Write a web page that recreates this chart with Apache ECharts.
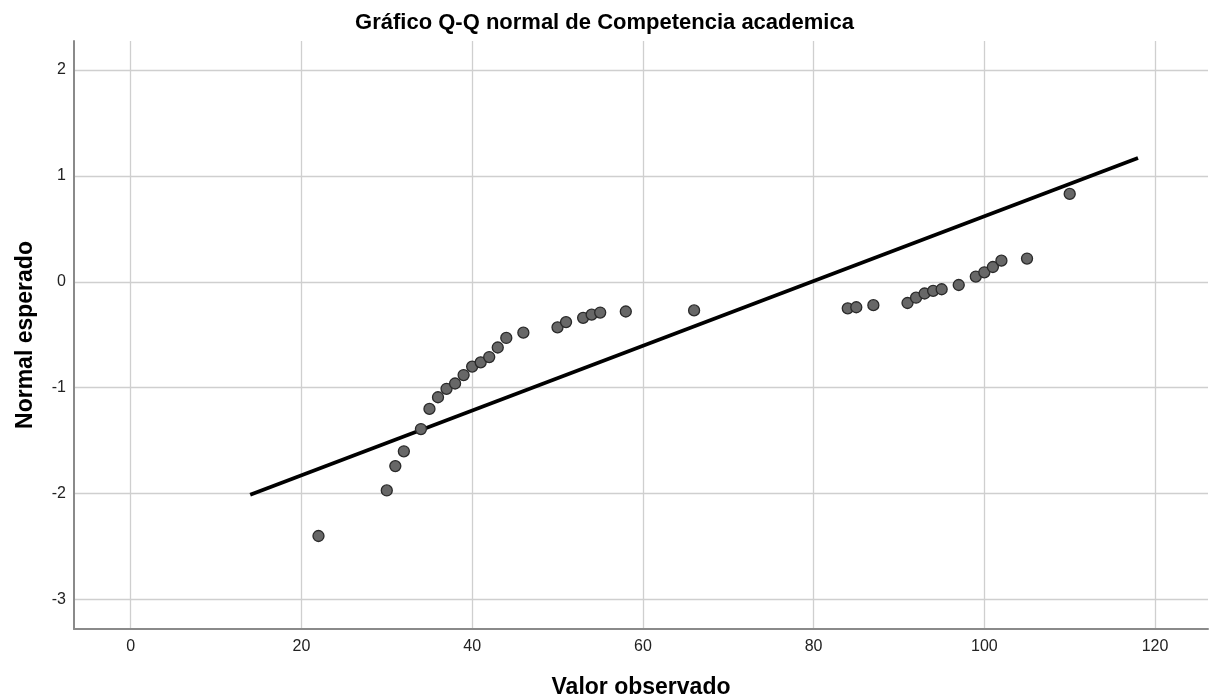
<!DOCTYPE html>
<html>
<head>
<meta charset="utf-8">
<script src="https://cdn.jsdelivr.net/npm/echarts@6/dist/echarts.min.js"></script>
<style>
html,body{margin:0;padding:0;background:#fff;}
#chart{width:1209px;height:700px;}
</style>
</head>
<body>
<div id="chart"></div>
<script>
// Observed values (x) and expected normal values (y)
var observed = [22, 30, 31, 32, 34, 35, 36, 37, 38, 39, 40, 41, 42, 43, 44, 46, 50, 51, 53, 54, 55, 58, 66,
                84, 85, 87, 91, 92, 93, 94, 95, 97, 99, 100, 101, 102, 105, 110];
var expected = [-2.40, -1.97, -1.74, -1.60, -1.39, -1.20, -1.09, -1.01, -0.96, -0.88, -0.80, -0.76, -0.71, -0.62, -0.53, -0.48, -0.43, -0.38, -0.34, -0.31, -0.29, -0.28, -0.27,
                -0.25, -0.24, -0.22, -0.20, -0.15, -0.11, -0.085, -0.07, -0.03, 0.05, 0.09, 0.14, 0.20, 0.22, 0.83];
// Reference line end points
var lineX = [14, 118];
var lineY = [-2.01, 1.17];
// Tick labels
var xTicks = [0, 20, 40, 60, 80, 100, 120];
var yTicks = [-3, -2, -1, 0, 1, 2];

var pts = observed.map(function (v, i) { return [v, expected[i]]; });
var linePts = lineX.map(function (v, i) { return [v, lineY[i]]; });

var FONT = 'Liberation Sans, Arial, sans-serif';
var chart = echarts.init(document.getElementById('chart'), null, {renderer: 'canvas'});
chart.setOption({
  animation: false,
  backgroundColor: '#ffffff',
  title: {
    text: 'Gráfico Q-Q normal de Competencia academica',
    left: 'center',
    top: 7,
    textStyle: {fontFamily: FONT, fontWeight: 'bold', fontSize: 22, color: '#000'}
  },
  grid: {left: 74, right: 1, top: 41, bottom: 71, containLabel: false, outerBoundsMode: 'none'},
  xAxis: {
    type: 'value',
    min: -6.64, max: 126.2,
    name: 'Valor observado',
    nameLocation: 'middle',
    nameGap: 47,
    nameTextStyle: {fontFamily: FONT, fontWeight: 'bold', fontSize: 23, color: '#000'},
    axisLine: {show: true, onZero: false, lineStyle: {color: '#8a8a8a', width: 2}},
    axisTick: {show: false, customValues: xTicks},
    axisLabel: {customValues: xTicks, fontFamily: FONT, fontSize: 16, color: '#222', margin: 10},
    splitLine: {show: true, lineStyle: {color: '#cfcfcf', width: 1.3}}
  },
  yAxis: {
    type: 'value',
    min: -3.278, max: 2.274,
    name: 'Normal esperado',
    nameLocation: 'middle',
    nameGap: 37,
    nameTextStyle: {fontFamily: FONT, fontWeight: 'bold', fontSize: 23, color: '#000'},
    axisLine: {show: true, onZero: false, lineStyle: {color: '#8a8a8a', width: 2}},
    axisTick: {show: false, customValues: yTicks},
    axisLabel: {customValues: yTicks, fontFamily: FONT, fontSize: 16, color: '#222', margin: 8},
    splitLine: {show: true, lineStyle: {color: '#cfcfcf', width: 1.3}}
  },
  series: [
    {
      type: 'line',
      data: linePts,
      symbol: 'none',
      lineStyle: {color: '#000', width: 3.8},
      z: 2
    },
    {
      type: 'scatter',
      data: pts,
      symbol: 'circle',
      symbolSize: 11,
      itemStyle: {color: '#676767', borderColor: '#2a2a2a', borderWidth: 1.3, opacity: 1},
      z: 3
    }
  ]
});
</script>
</body>
</html>
